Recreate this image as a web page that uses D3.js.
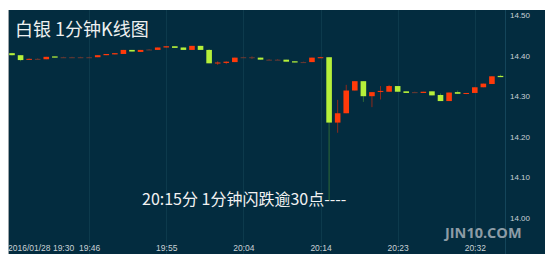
<!DOCTYPE html>
<html><head><meta charset="utf-8">
<script src="https://cdn.jsdelivr.net/npm/d3@7"></script>
<style>html,body{margin:0;padding:0;background:#fff;}svg{display:block;}</style>
</head><body>
<script>
const times = ["19:37","19:38","19:39","19:40","19:41","19:42","19:43","19:44","19:45","19:46",
"19:47","19:48","19:49","19:50","19:51","19:52","19:53","19:54","19:55","19:56",
"19:57","19:58","19:59","20:00","20:01","20:02","20:03","20:04","20:05","20:06",
"20:07","20:08","20:10","20:11","20:12","20:13","20:14","20:15","20:16","20:17",
"20:18","20:19","20:20","20:21","20:22","20:23","20:24","20:25","20:26","20:27",
"20:28","20:29","20:30","20:31","20:32","20:33","20:34","20:35"];
const open  = [14.406,14.401,14.391,14.392,14.391,14.398,14.396,14.396,14.396,14.396,
14.396,14.401,14.403,14.404,14.414,14.409,14.415,14.414,14.420,14.423,
14.420,14.414,14.424,14.414,14.381,14.382,14.384,14.396,14.396,14.395,
14.390,14.390,14.390,14.386,14.384,14.384,14.395,14.396,14.235,14.258,
14.314,14.337,14.300,14.311,14.311,14.325,14.312,14.310,14.308,14.312,
14.303,14.288,14.310,14.306,14.308,14.322,14.330,14.350];
const high  = [14.407,14.401,14.393,14.393,14.397,14.398,14.397,14.397,14.397,14.397,
14.401,14.404,14.406,14.414,14.414,14.414,14.416,14.420,14.423,14.423,
14.420,14.424,14.424,14.416,14.386,14.386,14.395,14.397,14.398,14.395,
14.391,14.391,14.390,14.386,14.385,14.395,14.397,14.396,14.291,14.328,
14.337,14.337,14.310,14.325,14.328,14.325,14.312,14.311,14.311,14.312,
14.307,14.309,14.314,14.308,14.322,14.331,14.349,14.353];
const low   = [14.400,14.386,14.390,14.390,14.391,14.395,14.395,14.395,14.395,14.395,
14.396,14.401,14.403,14.404,14.410,14.409,14.414,14.414,14.420,14.419,
14.414,14.414,14.414,14.381,14.377,14.379,14.384,14.395,14.392,14.390,
14.389,14.389,14.385,14.383,14.383,14.384,14.394,14.044,14.210,14.258,
14.314,14.286,14.273,14.292,14.311,14.311,14.308,14.309,14.308,14.302,
14.288,14.288,14.306,14.305,14.308,14.322,14.330,14.347];
const close = [14.401,14.389,14.392,14.392,14.397,14.395,14.396,14.396,14.396,14.396,
14.401,14.404,14.406,14.414,14.410,14.414,14.415,14.420,14.423,14.419,
14.414,14.424,14.414,14.381,14.383,14.385,14.395,14.396,14.396,14.390,
14.390,14.390,14.385,14.383,14.384,14.395,14.396,14.235,14.258,14.314,
14.337,14.300,14.310,14.313,14.325,14.311,14.308,14.310,14.311,14.302,
14.288,14.309,14.306,14.308,14.322,14.331,14.349,14.347];
const priceTicks = [14.00,14.10,14.20,14.30,14.40,14.50];
const timeTickIdx = [9,18,27,36,45,54];
const startLabel = "2016/01/28 19:30";
const title = "白银 1分钟K线图";
const note = "20:15分 1分钟闪跌逾30点----";
const watermark = "JIN10.COM";

const W = 554, H = 260;
const svg = d3.select("body").append("svg").attr("width", W).attr("height", H);
svg.append("rect").attr("width", W).attr("height", H).attr("fill", "#fff");
// panel
svg.append("rect").attr("x", 8).attr("y", 10).attr("width", 537).attr("height", 244).attr("fill", "#032c3f");
svg.append("line").attr("x1", 8.5).attr("x2", 8.5).attr("y1", 10).attr("y2", 254).attr("stroke", "#9aa3a8").attr("stroke-width", 1);

const x = d3.scalePoint().domain(times).range([12, 500.5]);
const y = d3.scaleLinear().domain([14.00, 14.50]).range([218, 15]);

const axisFont = "'Liberation Sans Narrow', 'Liberation Sans', sans-serif";

// vertical grid
svg.append("g").selectAll("line").data(timeTickIdx).join("line")
  .attr("x1", i => Math.round(x(times[i])) + 0.5).attr("x2", i => Math.round(x(times[i])) + 0.5)
  .attr("y1", 10).attr("y2", 254).attr("stroke", "#0d3a4c").attr("stroke-width", 1);
// axis separator
svg.append("line").attr("x1", 505.5).attr("x2", 505.5).attr("y1", 10).attr("y2", 254).attr("stroke", "#14455a");

// y axis labels
const yAxis = d3.axisRight(y).tickValues(priceTicks).tickFormat(d3.format(".2f")).tickSize(0).tickPadding(0);
const gy = svg.append("g").attr("transform", "translate(510,0)").call(yAxis);
gy.select(".domain").remove();
gy.selectAll("text").attr("fill", "#c9d2d6").attr("font-size", "8px").attr("font-family", "'Liberation Sans', sans-serif");

// x axis labels
const xAxis = d3.axisBottom(x).tickValues(timeTickIdx.map(i => times[i])).tickSize(0).tickPadding(0);
const gx = svg.append("g").attr("transform", "translate(0,245)").call(xAxis);
gx.select(".domain").remove();
gx.selectAll("text").attr("fill", "#c9d2d6").attr("font-size", "8.5px").attr("font-family", axisFont);
svg.append("text").attr("x", 8).attr("y", 251).text(startLabel)
  .attr("fill", "#c9d2d6").attr("font-size", "8.5px").attr("font-family", axisFont);

// candles
const data = times.map((t, i) => ({t, o: open[i], h: high[i], l: low[i], c: close[i]}));
const upBody = "#ff3a0a", downBody = "#b6f03a";
const upWick = "#8e2a1c", downWick = "#2f6a36";
const bw = 5.6;
const g = svg.append("g");
g.selectAll("line.wick").data(data).join("line").attr("class", "wick")
  .attr("x1", d => x(d.t)).attr("x2", d => x(d.t))
  .attr("y1", d => y(d.h)).attr("y2", d => y(d.l))
  .attr("stroke", d => d.c >= d.o ? upWick : downWick).attr("stroke-width", 1);
g.selectAll("rect.body").data(data).join("rect").attr("class", "body")
  .attr("x", d => x(d.t) - bw / 2).attr("width", bw)
  .attr("y", d => y(Math.max(d.o, d.c)))
  .attr("height", d => Math.max(1, Math.abs(y(d.o) - y(d.c))))
  .attr("fill", d => d.c > d.o ? upBody : (d.c < d.o ? downBody : "#6b3a32"));

// title
svg.append("text").attr("x", 15).attr("y", 36).text(title)
  .attr("fill", "#eef0f0").attr("font-size", "18px").attr("font-family", "'Noto Sans CJK SC', sans-serif");
// annotation
svg.append("text").attr("x", 142).attr("y", 205).text(note)
  .attr("fill", "#f2f2f2").attr("font-size", "16px").attr("font-family", "'Noto Sans CJK SC', sans-serif");
// watermark
svg.append("text").attr("x", 445).attr("y", 238).text(watermark)
  .attr("fill", "#8d9ca6").attr("font-size", "14.5px").attr("font-weight", "bold").attr("font-family", "'Open Sans', 'Noto Sans', sans-serif");
</script>
</body></html>
